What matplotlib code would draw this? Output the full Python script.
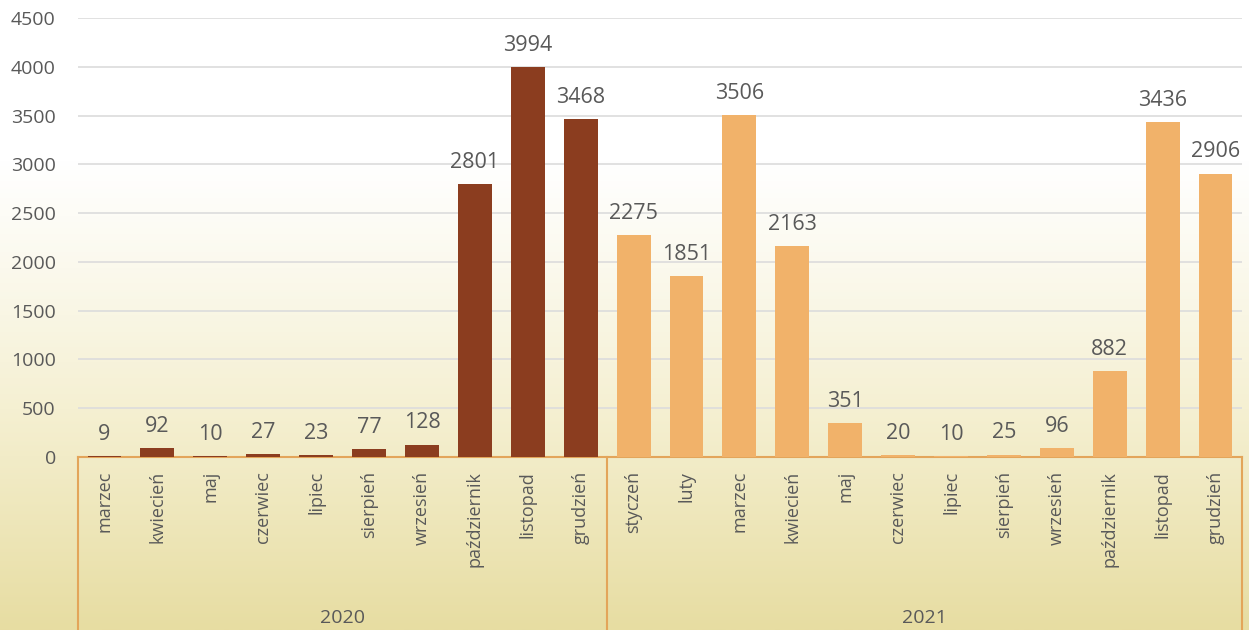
import numpy as np
import matplotlib.pyplot as plt
import matplotlib.transforms as mtransforms
from matplotlib.colors import LinearSegmentedColormap

plt.rcParams['font.family'] = ['Open Sans', 'DejaVu Sans']

months_2020 = ['marzec', 'kwiecień', 'maj', 'czerwiec', 'lipiec', 'sierpień',
               'wrzesień', 'październik', 'listopad', 'grudzień']
values_2020 = [9, 92, 10, 27, 23, 77, 128, 2801, 3994, 3468]
months_2021 = ['styczeń', 'luty', 'marzec', 'kwiecień', 'maj', 'czerwiec',
               'lipiec', 'sierpień', 'wrzesień', 'październik', 'listopad', 'grudzień']
values_2021 = [2275, 1851, 3506, 2163, 351, 20, 10, 25, 96, 882, 3436, 2906]
years = ['2020', '2021']

col_2020 = '#8B3D1F'
col_2021 = '#F1B26A'
line_col = '#E3A55A'
txt_col = '#595959'

fig = plt.figure(figsize=(12.49, 6.30), dpi=100)

# tlo z gradientem
bg = fig.add_axes([0, 0, 1, 1], zorder=-10)
ys = np.linspace(0, 1, 300)
g = np.clip((ys - 0.25) / 0.75, 0, 1) ** 1.1
bg_cmap = LinearSegmentedColormap.from_list('bg', ['#FFFFFF', '#F5F0D2', '#E7DDA2'])
bg.imshow(g[:, None], aspect='auto', cmap=bg_cmap, extent=[0, 1, 0, 1], origin='upper')
bg.axis('off')

ax = fig.add_axes([0.0625, 0.2746, 0.9319, 0.6968])
ax.set_facecolor('none')

n1 = len(values_2020)
n2 = len(values_2021)
x1 = np.arange(n1)
x2 = np.arange(n1, n1 + n2)
b1 = ax.bar(x1, values_2020, width=0.64, color=col_2020, zorder=3)
b2 = ax.bar(x2, values_2021, width=0.64, color=col_2021, zorder=3)

for bars, vals in ((b1, values_2020), (b2, values_2021)):
    for b, v in zip(bars, vals):
        ax.annotate(str(v), (b.get_x() + b.get_width() / 2, v), xytext=(0, 8),
                    textcoords='offset points', ha='center', va='bottom',
                    fontsize=15.5, color=txt_col)

ax.set_xlim(-0.5, n1 + n2 - 0.5)
ax.set_ylim(0, 4500)
ax.set_yticks(np.arange(0, 4501, 500))
ax.yaxis.grid(True, color='#DCDCDC', linewidth=1.2, zorder=0)
ax.tick_params(axis='y', length=0, labelsize=14, labelcolor=txt_col, pad=16)
ax.set_xticks(np.concatenate([x1, x2]))
ax.set_xticklabels(months_2020 + months_2021, rotation=90, fontsize=13, color=txt_col)
ax.tick_params(axis='x', length=0, pad=10)
for s in ['top', 'right', 'left']:
    ax.spines[s].set_visible(False)
ax.spines['bottom'].set_color(line_col)
ax.spines['bottom'].set_linewidth(1.5)

trans = mtransforms.blended_transform_factory(ax.transData, ax.transAxes)
for xv in [-0.5, n1 - 0.5, n1 + n2 - 0.5]:
    ax.plot([xv, xv], [0, -0.4], color=line_col, linewidth=1.5, transform=trans, clip_on=False)

centers = [(n1 - 1) / 2, n1 + (n2 - 1) / 2]
for c, yr in zip(centers, years):
    ax.text(c, -0.367, yr, transform=trans, ha='center', va='center', fontsize=14, color=txt_col)

plt.savefig('out.png', dpi=100)
